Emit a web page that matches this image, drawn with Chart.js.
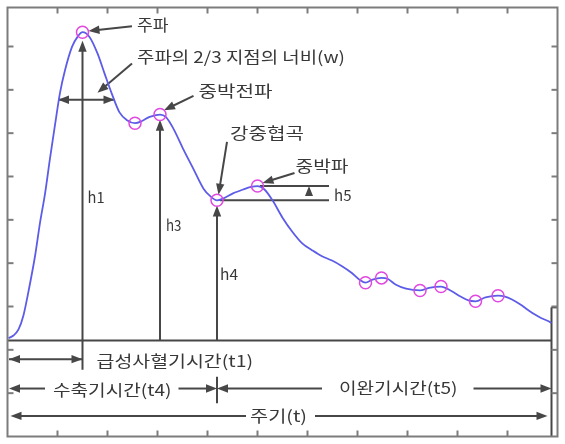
<!DOCTYPE html>
<html><head><meta charset="utf-8">
<script src="https://cdn.jsdelivr.net/npm/chart.js@4.4.1/dist/chart.umd.min.js"></script>
<style>html,body{margin:0;padding:0;background:#fff;}canvas{display:block;}</style>
</head><body>
<canvas id="c" width="565" height="444"></canvas>
<script>
// Pulse waveform samples (time units, amplitude units)
const timeValues = [0.02,0.12,0.22,0.32,0.42,0.55,0.65,0.75,0.85,0.95,1.05,1.15,1.29,1.41,1.50,1.64,1.80,1.94,2.08,2.24,2.39,2.55,2.69,2.83,2.95,3.05,3.17,3.32,3.52,3.72,3.92,4.06,4.19,4.31,4.51,4.71,4.87,5.00,5.14,5.30,5.50,5.70,5.90,6.09,6.29,6.49,6.69,6.88,7.04,7.16,7.30,7.48,7.60,7.77,7.97,8.25,8.43,8.67,8.86,9.06,9.22,9.36,9.56,9.81,9.95,10.09,10.25,10.41,10.54,10.68,10.80,10.88];
const waveValues = [2.27,2.33,2.47,2.80,3.35,4.16,4.93,5.60,6.42,7.19,7.93,8.45,8.99,9.24,9.33,9.22,8.84,8.38,7.93,7.48,7.30,7.23,7.28,7.37,7.41,7.43,7.37,7.10,6.62,6.17,5.72,5.54,5.45,5.49,5.61,5.70,5.76,5.78,5.70,5.45,5.05,4.72,4.45,4.30,4.16,4.06,3.93,3.78,3.62,3.55,3.62,3.66,3.64,3.50,3.41,3.37,3.43,3.46,3.37,3.23,3.14,3.12,3.21,3.25,3.23,3.16,3.05,2.92,2.82,2.73,2.67,2.62];
// Feature points marked with circles (peak, notch, tidal peak, dicrotic notch, dicrotic peak, ...)
const markerTime = [1.50,2.55,3.05,4.19,5.00,7.16,7.48,8.25,8.67,9.36,9.81];
const markerWave = [9.33,7.23,7.43,5.45,5.78,3.55,3.66,3.37,3.46,3.12,3.25];
// Axis tick positions (no tick labels in the reference)
const xTicks = [1,2,3,4,5,6,7,8,9,10];
const yTicks = [1,2,3,4,5,6,7,8,9];
// Reference levels
const baselineLevel = 2.215;   // horizontal time axis line
const periodEnd = 10.88;       // end of one period
const widthLevel = 7.77;       // level of the width (w) measurement
const widthStart = 1.01, widthEnd = 2.14;
const rowT1 = 1.785, rowT4 = 1.107, rowT = 0.475;

const FONT = '"Noto Sans CJK KR", "Noto Sans", sans-serif';
const LINE = '#474747';
const TEXT = '#383838';

function fitText(ctx, text, xl, xr, yc, size) {
  ctx.font = size + 'px ' + FONT;
  const total = ctx.measureText(text).width;
  const target = xr - xl;
  ctx.textBaseline = 'middle';
  ctx.textAlign = 'left';
  ctx.save();
  ctx.translate(xl, yc);
  ctx.scale(target / total, 1);
  ctx.fillText(text, 0, 0);
  ctx.restore();
}
function head(ctx, x0, y0, x1, y1, len, half) {
  const a = Math.atan2(y1 - y0, x1 - x0);
  ctx.beginPath();
  ctx.moveTo(x1, y1);
  ctx.lineTo(x1 - len * Math.cos(a) + half * Math.sin(a), y1 - len * Math.sin(a) - half * Math.cos(a));
  ctx.lineTo(x1 - len * Math.cos(a) - half * Math.sin(a), y1 - len * Math.sin(a) + half * Math.cos(a));
  ctx.closePath();
  ctx.fill();
}
function seg(ctx, x0, y0, x1, y1) {
  ctx.beginPath(); ctx.moveTo(x0, y0); ctx.lineTo(x1, y1); ctx.stroke();
}
function arrow(ctx, x0, y0, x1, y1) {
  const len = 11, half = 4.2;
  const d = Math.hypot(x1 - x0, y1 - y0);
  const ex = x1 - (x1 - x0) / d * (len - 2), ey = y1 - (y1 - y0) / d * (len - 2);
  seg(ctx, x0, y0, ex, ey);
  head(ctx, x0, y0, x1, y1, len, half);
}
function dblArrow(ctx, x0, y0, x1, y1) {
  seg(ctx, x0, y0, x1, y1);
  head(ctx, x1, y1, x0, y0, 11, 4.2);
  head(ctx, x0, y0, x1, y1, 11, 4.2);
}

const annotations = {
  id: 'annotations',
  beforeDatasetsDraw(chart) {
    const ctx = chart.ctx, xs = chart.scales.x, ys = chart.scales.y;
    const X = v => xs.getPixelForValue(v), Y = v => ys.getPixelForValue(v);
    ctx.save();
    ctx.strokeStyle = LINE; ctx.fillStyle = LINE; ctx.lineWidth = 2;
    // time axis line
    seg(ctx, X(0), Y(baselineLevel), X(periodEnd), Y(baselineLevel));
    // period end bracket
    seg(ctx, X(periodEnd), Y(0), X(periodEnd), Y(2.98));
    seg(ctx, X(periodEnd), Y(2.98), X(11), Y(2.98));
    // h1 (peak), h3 (tidal wave), h4 (dicrotic notch)
    arrow(ctx, X(markerTime[0]), Y(rowT1 - 0.245), X(markerTime[0]), Y(markerWave[0] - 0.2));
    arrow(ctx, X(markerTime[2]), Y(baselineLevel), X(markerTime[2]), Y(markerWave[2] - 0.12));
    arrow(ctx, X(markerTime[3]), Y(baselineLevel), X(markerTime[3]), Y(markerWave[3] - 0.12));
    // width w
    dblArrow(ctx, X(widthStart), Y(widthLevel), X(widthEnd), Y(widthLevel));
    // h5 lines
    seg(ctx, X(markerTime[4] + 0.05), Y(markerWave[4]), X(6.43), Y(markerWave[4]));
    seg(ctx, X(markerTime[3] + 0.06), Y(markerWave[3]), X(6.43), Y(markerWave[3]));
    head(ctx, X(6.03), Y(markerWave[3]), X(6.03), Y(markerWave[4]), 10, 4);
    // callout arrows
    arrow(ctx, X(2.49), Y(9.47), X(1.62), Y(9.36));
    arrow(ctx, X(2.49), Y(8.61), X(1.80), Y(7.93));
    arrow(ctx, X(3.72), Y(7.86), X(3.13), Y(7.53));
    arrow(ctx, X(4.39), Y(6.80), X(4.22), Y(5.58));
    arrow(ctx, X(5.74), Y(6.08), X(5.10), Y(5.85));
    // row t1
    dblArrow(ctx, X(0.03), Y(rowT1), X(markerTime[0]), Y(rowT1));
    // row t4 / t5
    arrow(ctx, X(0.75), Y(rowT4), X(0.03), Y(rowT4));
    arrow(ctx, X(3.42), Y(rowT4), X(markerTime[3]), Y(rowT4));
    arrow(ctx, X(6.29), Y(rowT4), X(markerTime[3]), Y(rowT4));
    seg(ctx, X(markerTime[3]), Y(1.38), X(markerTime[3]), Y(0.77));
    arrow(ctx, X(9.32), Y(rowT4), X(periodEnd), Y(rowT4));
    // row t
    arrow(ctx, X(4.77), Y(rowT), X(0.06), Y(rowT));
    arrow(ctx, X(6.15), Y(rowT), X(10.80), Y(rowT));
    // labels
    ctx.fillStyle = TEXT;
    fitText(ctx, '주파', X(2.59), X(3.22), Y(9.49), 16);
    fitText(ctx, '주파의 2/3 지점의 너비(w)', X(2.59), X(6.75), Y(8.75), 16);
    fitText(ctx, '중박전파', X(3.82), X(5.30), Y(7.98), 16);
    fitText(ctx, '강중협곡', X(4.45), X(5.93), Y(7.01), 16);
    fitText(ctx, '중박파', X(5.76), X(6.82), Y(6.24), 16);
    fitText(ctx, 'h1', X(1.60), X(1.94), Y(5.51), 15);
    fitText(ctx, 'h3', X(3.17), X(3.48), Y(4.88), 15);
    fitText(ctx, 'h4', X(4.25), X(4.61), Y(3.75), 15);
    fitText(ctx, 'h5', X(6.53), X(6.88), Y(5.56), 15);
    fitText(ctx, '급성사혈기시간(t1)', X(1.78), X(4.91), Y(1.74), 16);
    fitText(ctx, '수축기시간(t4)', X(0.91), X(3.28), Y(1.08), 16);
    fitText(ctx, '이완기시간(t5)', X(6.63), X(9.00), Y(1.11), 16);
    fitText(ctx, '주기(t)', X(4.85), X(5.99), Y(0.47), 16);
    ctx.restore();
  },
  afterDraw(chart) {
    const ctx = chart.ctx, xs = chart.scales.x, ys = chart.scales.y;
    const a = chart.chartArea;
    ctx.save();
    ctx.strokeStyle = '#7c7c7c'; ctx.lineWidth = 2;
    ctx.strokeRect(a.left, a.top, a.right - a.left, a.bottom - a.top);
    const t = 6;
    xTicks.forEach(v => {
      const x = xs.getPixelForValue(v);
      seg(ctx, x, a.top, x, a.top + t);
      seg(ctx, x, a.bottom, x, a.bottom - t);
    });
    yTicks.forEach(v => {
      const y = ys.getPixelForValue(v);
      seg(ctx, a.left, y, a.left + t, y);
      seg(ctx, a.right, y, a.right - t, y);
    });
    ctx.restore();
  }
};

new Chart(document.getElementById('c'), {
  type: 'line',
  data: {
    datasets: [
      {
        data: timeValues.map((t, i) => ({ x: t, y: waveValues[i] })),
        borderColor: '#5c5ce8',
        borderWidth: 1.8,
        pointRadius: 0,
        cubicInterpolationMode: 'monotone',
        fill: false,
        order: 2
      },
      {
        data: markerTime.map((t, i) => ({ x: t, y: markerWave[i] })),
        showLine: false,
        pointRadius: 6,
        pointBorderWidth: 1.5,
        pointBorderColor: '#e048e0',
        pointBackgroundColor: 'rgba(0,0,0,0)',
        order: 1
      }
    ]
  },
  options: {
    responsive: false,
    animation: false,
    devicePixelRatio: 1,
    layout: { padding: { left: 2, right: 7, top: 3, bottom: 3 } },
    plugins: { legend: { display: false }, tooltip: { enabled: false } },
    scales: {
      x: { type: 'linear', min: 0, max: 11, display: false },
      y: { type: 'linear', min: 0, max: 9.9, display: false }
    }
  },
  plugins: [annotations]
});
</script>
</body></html>
